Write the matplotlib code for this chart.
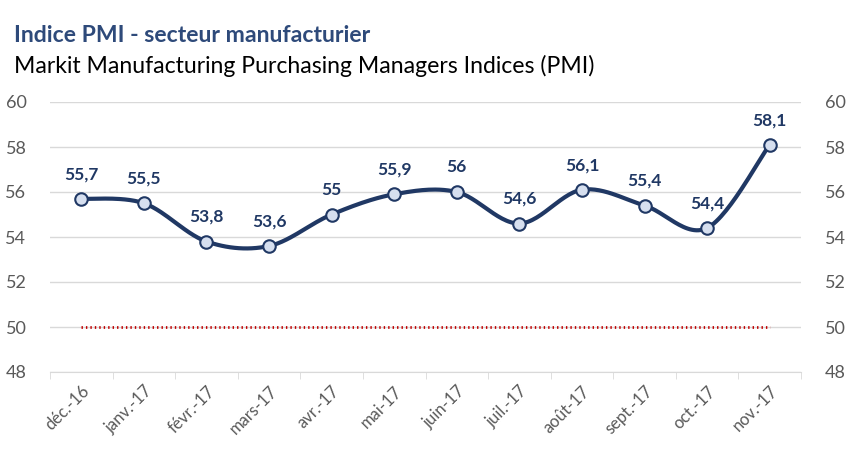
import numpy as np
import matplotlib
matplotlib.use("Agg")
import matplotlib.pyplot as plt

categories = ["déc.-16", "janv.-17", "févr.-17", "mars-17", "avr.-17", "mai-17",
              "juin-17", "juil.-17", "août-17", "sept.-17", "oct.-17", "nov.-17"]
pmi = [55.7, 55.5, 53.8, 53.6, 55.0, 55.9, 56.0, 54.6, 56.1, 55.4, 54.4, 58.1]
value_labels = ["55,7", "55,5", "53,8", "53,6", "55", "55,9", "56", "54,6", "56,1", "55,4", "54,4", "58,1"]
threshold = 50
y_ticks = [48, 50, 52, 54, 56, 58, 60]

plt.rcParams['font.family'] = ['Lato', 'DejaVu Sans']

W, H = 851, 459
fig = plt.figure(figsize=(W / 100, H / 100), dpi=100)
ax = fig.add_axes([50 / W, 1 - 372 / H, 751 / W, 270 / H])

n = len(pmi)
x = np.arange(n)

# Catmull-Rom style smoothing of the drawn line (Excel-like smoothed line)
def smooth(xs, ys, steps=30, tension=1/6):
    xs = np.asarray(xs, float); ys = np.asarray(ys, float)
    px = np.concatenate([[xs[0]], xs, [xs[-1]]])
    py = np.concatenate([[ys[0]], ys, [ys[-1]]])
    outx, outy = [], []
    for i in range(1, len(px) - 2):
        p0 = np.array([px[i - 1], py[i - 1]]); p1 = np.array([px[i], py[i]])
        p2 = np.array([px[i + 1], py[i + 1]]); p3 = np.array([px[i + 2], py[i + 2]])
        c1 = p1 + (p2 - p0) * tension
        c2 = p2 - (p3 - p1) * tension
        t = np.linspace(0, 1, steps)[:, None]
        b = ((1 - t) ** 3) * p1 + 3 * ((1 - t) ** 2) * t * c1 + 3 * (1 - t) * t ** 2 * c2 + t ** 3 * p2
        outx.extend(b[:, 0]); outy.extend(b[:, 1])
    return np.array(outx), np.array(outy)

sx, sy = smooth(x, pmi)
navy = "#203864"
ax.plot(sx, sy, color=navy, lw=3.0, solid_capstyle="round", zorder=3)
ax.plot(x, pmi, linestyle="none", marker="o", ms=9, mfc="#D6DFEF", mec=navy, mew=1.5, zorder=4)

ax.plot([x[0], x[-1]], [threshold, threshold], color="#C00000", lw=2.0,
        linestyle=(0, (0.5, 1.1)), dash_capstyle="butt", zorder=2)

for i, (v, lab) in enumerate(zip(pmi, value_labels)):
    ax.annotate(lab, (x[i], v), xytext=(0, 12), textcoords="offset points",
                ha="center", va="bottom", fontsize=12.5, fontweight="bold", color=navy)

ax.set_xlim(-0.5, n - 0.5)
ax.set_ylim(48, 60)
ax.set_yticks(y_ticks)
ax.set_yticklabels([str(t) for t in y_ticks])
ax.yaxis.grid(True, color="#D9D9D9", lw=1)
ax.set_axisbelow(True)
for s in ["top", "left", "right"]:
    ax.spines[s].set_visible(False)
ax.spines["bottom"].set_color("#D9D9D9")
ax.tick_params(axis="y", length=0, labelsize=13, labelcolor="#595959", pad=17,
               left=False, right=False, labelleft=True, labelright=True)

ax.set_xticks(x)
ax.set_xticklabels(categories, rotation=45, ha="right", rotation_mode="anchor")
ax.set_xticks(np.arange(n + 1) - 0.5, minor=True)
ax.tick_params(axis="x", which="major", length=0, labelsize=12, labelcolor="#595959", pad=8)
ax.tick_params(axis="x", which="minor", length=5, color="#D9D9D9")

fig.text(14 / W, 1 - 36 / H, "Indice PMI - secteur manufacturier", fontsize=16.6, fontweight="bold",
         color="#2E4A7A", va="center", ha="left")
fig.text(14 / W, 1 - 66 / H, "Markit Manufacturing Purchasing Managers Indices (PMI)", fontsize=16.6,
         color="black", va="center", ha="left")

fig.savefig("out.png", dpi=100)
